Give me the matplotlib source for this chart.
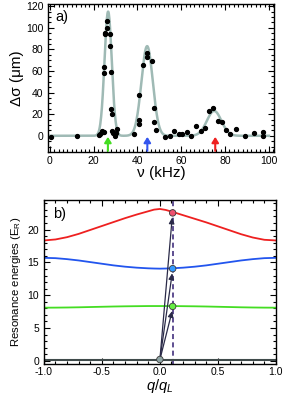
import numpy as np
import matplotlib
matplotlib.use("Agg")
import matplotlib.pyplot as plt
from matplotlib.ticker import MultipleLocator
from matplotlib.patches import FancyArrowPatch

plt.rcParams['font.family'] = ['Liberation Sans', 'DejaVu Sans']
plt.rcParams['mathtext.fontset'] = 'custom'
plt.rcParams['mathtext.rm'] = 'Liberation Sans'
plt.rcParams['mathtext.it'] = 'Liberation Sans:italic'

# ---- panel a) data ----
nu_pts = [0.5, 12.6, 22.3, 23.1, 23.6, 24.3, 24.8, 24.5, 24.5, 25.4, 25.4, 26.3, 26.3,
          27.4, 27.4, 27.8, 27.8, 28.4, 28.4, 28.7, 29.6, 30.4, 30.7,
          38.4, 40.6, 40.6, 40.6, 42.6, 44.2, 44.2, 46.7, 47.6, 47.6, 48.6,
          52.7, 54.7, 56.5, 58.8, 60.5, 62.8, 64.6, 66.9, 68.8, 70.7, 72.6, 74.5,
          76.7, 78.7, 80.5, 82.4, 84.8, 88.9, 93.0, 97.3, 97.3]
dsig_pts = [-1.2, 0.0, 1.0, 2.0, 4.0, 3.4, 3.7, 63.4, 58.2, 94.8, 93.8, 106.0, 100.0,
            93.8, 83.4, 59.4, 24.6, 20.0, 4.0, 2.5, -0.6, 3.0, 6.0,
            2.0, 37.8, 14.2, 10.8, 65.5, 76.3, 72.6, 69.5, 26.0, 12.6, 5.5,
            -1.5, 0.0, 4.3, 1.5, 1.8, 3.4, -0.6, 8.6, 4.6, 7.0, 22.5, 26.0,
            14.0, 12.6, 5.0, 1.8, 6.5, -0.6, 3.0, 3.4, 0.0]
# Gaussian fit parameters (center, amplitude, width)
fit_centers = [26.6, 44.4, 75.0]
fit_amps = [115.0, 83.0, 23.0]
fit_widths = [1.65, 2.6, 3.3]
arrow_nu = [26.5, 44.5, 75.5]
arrow_colors = ['#44dd22', '#3355ee', '#ee2222']

# ---- panel b) data ----
q_grid = [-1.0, -0.9, -0.8, -0.7, -0.6, -0.5, -0.4, -0.3, -0.2, -0.1, -0.05, 0.0,
          0.05, 0.1, 0.2, 0.3, 0.4, 0.5, 0.6, 0.7, 0.8, 0.9, 1.0]
E_red = [18.35, 18.5, 18.85, 19.35, 19.95, 20.55, 21.15, 21.75, 22.3, 22.8, 23.05, 23.15,
         23.0, 22.75, 22.2, 21.65, 21.1, 20.5, 19.9, 19.3, 18.8, 18.45, 18.35]
E_blue = [15.7, 15.65, 15.5, 15.3, 15.05, 14.8, 14.55, 14.35, 14.2, 14.1, 14.07, 14.05,
          14.07, 14.1, 14.2, 14.35, 14.55, 14.8, 15.05, 15.3, 15.5, 15.65, 15.7]
E_green = [8.1, 8.11, 8.13, 8.16, 8.2, 8.24, 8.28, 8.31, 8.33, 8.35, 8.35, 8.35,
           8.35, 8.35, 8.33, 8.31, 8.28, 8.24, 8.2, 8.16, 8.13, 8.11, 8.1]
E_gray = [0.15] * len(q_grid)
q_sel = 0.11
E_sel = [0.2, 8.3, 14.05, 22.55]
sel_colors = ['#8fa5a5', '#66ee44', '#3399ff', '#ee5070']

fig = plt.figure(figsize=(2.83, 4.01), dpi=100)

# ---------- panel a ----------
ax1 = fig.add_axes([0.170, 0.621, 0.798, 0.369])
nu = np.linspace(0, 100, 800)
fit = np.zeros_like(nu)
for c, a, w in zip(fit_centers, fit_amps, fit_widths):
    fit += a * np.exp(-(nu - c) ** 2 / (2 * w ** 2))
ax1.plot(nu, fit, color='#9fbab5', lw=1.8, zorder=2)
ax1.plot(nu_pts, dsig_pts, 'o', color='black', ms=2.8, zorder=3)
for n, c in zip(arrow_nu, arrow_colors):
    ax1.add_patch(FancyArrowPatch((n, -14.0), (n, -1.0),
                                  arrowstyle='-|>,head_width=2.0,head_length=3.2',
                                  mutation_scale=1, color=c, lw=1.5,
                                  shrinkA=0, shrinkB=0, zorder=4))
ax1.set_xlim(-0.8, 102.3)
ax1.set_ylim(-15, 122)
ax1.xaxis.set_major_locator(MultipleLocator(20))
ax1.xaxis.set_minor_locator(MultipleLocator(2))
ax1.yaxis.set_major_locator(MultipleLocator(20))
ax1.yaxis.set_minor_locator(MultipleLocator(5))
ax1.set_xlabel('ν (kHz)', fontsize=11, labelpad=0)
ax1.set_ylabel('Δσ (μm)', fontsize=11, labelpad=1)
ax1.text(0.03, 0.96, 'a)', transform=ax1.transAxes, fontsize=10.5, va='top', ha='left')

# ---------- panel b ----------
ax2 = fig.add_axes([0.155, 0.092, 0.820, 0.409])
ax2.plot(q_grid, E_red, color='#ee2020', lw=1.3)
ax2.plot(q_grid, E_blue, color='#2255ee', lw=1.3)
ax2.plot(q_grid, E_green, color='#44dd22', lw=1.3)
ax2.plot(q_grid, E_gray, color='#3f4a4a', lw=1.5)
ax2.axvline(q_sel, color='#524088', lw=1.3, ls=(0, (2.8, 1.8)), zorder=1)
for e in E_sel[1:]:
    ax2.add_patch(FancyArrowPatch((0.0, E_sel[0]), (q_sel - 0.004, e - 0.7),
                                  arrowstyle='-|>,head_width=1.6,head_length=3.5',
                                  mutation_scale=1, color='#2a2a48', lw=0.9,
                                  shrinkA=0, shrinkB=0, zorder=4))
ax2.scatter([0.0] + [q_sel] * 3, E_sel, s=22, c=sel_colors, edgecolors='#3a3a3a',
            linewidths=0.6, zorder=5)
ax2.set_xlim(-1.0, 1.0)
ax2.set_ylim(-0.5, 24.5)
ax2.xaxis.set_major_locator(MultipleLocator(0.5))
ax2.xaxis.set_minor_locator(MultipleLocator(0.1))
ax2.yaxis.set_major_locator(MultipleLocator(5))
ax2.yaxis.set_minor_locator(MultipleLocator(1))
ax2.set_xlabel('$q/q_L$', fontsize=10.5, labelpad=0)
ax2.set_ylabel('Resonance energies (E$_\\mathrm{R}$)', fontsize=8.2, labelpad=3)
ax2.text(0.04, 0.96, 'b)', transform=ax2.transAxes, fontsize=10.5, va='top', ha='left')

for ax in (ax1, ax2):
    ax.tick_params(which='both', direction='in', top=True, right=True, labelsize=7.5,
                   width=0.8)
    ax.tick_params(which='major', length=4)
    ax.tick_params(which='minor', length=2)
    for s in ax.spines.values():
        s.set_linewidth(1.0)
ax1.tick_params(axis='x', pad=3)
ax2.tick_params(axis='x', pad=2)
ax2.set_xticks([-1.0, -0.5, 0.0, 0.5, 1.0])
ax2.set_xticklabels(['-1.0', '-0.5', '0.0', '0.5', '1.0'])

fig.savefig('out.png', dpi=100)
